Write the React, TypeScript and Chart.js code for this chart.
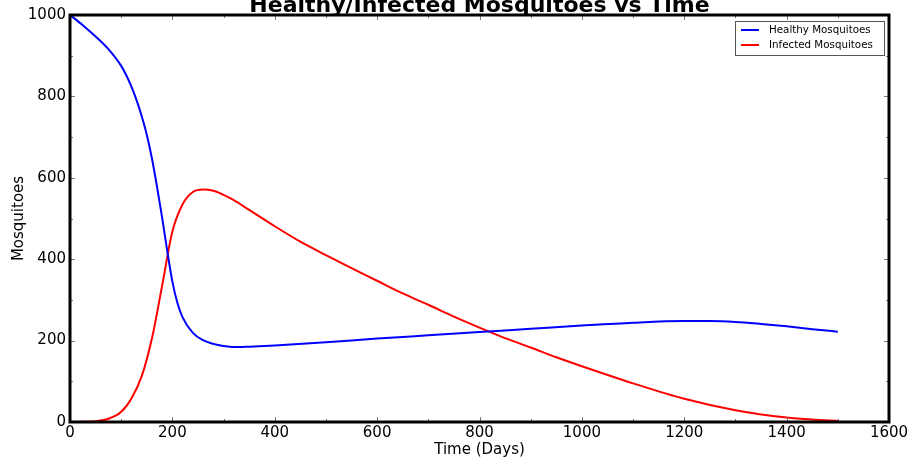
import React, { useEffect, useRef } from "react";
import { Chart, registerables } from "chart.js";

Chart.register(...registerables);

const TITLE = "Healthy/Infected Mosquitoes vs Time";
const X_LABEL = "Time (Days)";
const Y_LABEL = "Mosquitoes";

const healthyDays = [0, 25, 50, 75, 100, 110, 120, 130, 140, 150, 160, 170, 180, 190, 200, 210, 220, 240, 260, 280, 300, 330, 350, 400, 500, 600, 700, 800, 900, 1000, 1100, 1200, 1250, 1300, 1350, 1400, 1450, 1500];
const healthyValues = [1000, 975, 947, 916, 875, 852, 824, 791, 752, 706, 648, 578, 502, 420, 345, 292, 257, 219, 201, 192, 187, 184, 185, 188, 196, 205, 213, 221, 229, 237, 244, 248, 248, 246, 241, 235, 228, 222];

const infectedDays = [0, 25, 50, 75, 100, 120, 140, 160, 180, 200, 220, 240, 260, 280, 300, 320, 350, 400, 450, 500, 550, 600, 650, 700, 750, 800, 850, 900, 950, 1000, 1100, 1200, 1300, 1400, 1450, 1500];
const infectedValues = [0, 0.5, 2, 8, 25, 58, 112, 205, 335, 468, 535, 565, 571, 568, 558, 545, 521, 481, 443, 410, 378, 347, 316, 288, 259, 232, 206, 183, 159, 137, 95, 57, 29, 11, 6, 3];

const X_MIN = 0, X_MAX = 1600, X_STEP = 200;
const Y_MIN = 0, Y_MAX = 1000, Y_STEP = 200;

const FONT = "'DejaVu Sans', 'Bitstream Vera Sans', sans-serif";

const framePlugin = {
  id: "mplFrame",
  afterDatasetsDraw(chart: any) {
    const { ctx, chartArea: a, scales } = chart;
    const xs = scales.x, ys = scales.y;
    ctx.save();
    ctx.strokeStyle = "#777";
    ctx.lineWidth = 1;
    ctx.beginPath();
    for (let v = X_MIN; v <= X_MAX; v += X_STEP / 2) {
      const px = Math.round(xs.getPixelForValue(v)) + 0.5;
      const len = v % X_STEP === 0 ? 5 : 3;
      ctx.moveTo(px, a.bottom); ctx.lineTo(px, a.bottom - len);
      ctx.moveTo(px, a.top); ctx.lineTo(px, a.top + len);
    }
    for (let v = Y_MIN; v <= Y_MAX; v += Y_STEP / 2) {
      const py = Math.round(ys.getPixelForValue(v)) + 0.5;
      const len = v % Y_STEP === 0 ? 5 : 3;
      ctx.moveTo(a.left, py); ctx.lineTo(a.left + len, py);
      ctx.moveTo(a.right, py); ctx.lineTo(a.right - len, py);
    }
    ctx.stroke();
    ctx.strokeStyle = "#000";
    ctx.lineWidth = 3;
    ctx.strokeRect(a.left, a.top, a.right - a.left, a.bottom - a.top);
    ctx.restore();
  },
  afterDraw(chart: any) {
    const { ctx, chartArea: a } = chart;
    ctx.save();
    ctx.fillStyle = "#000";
    ctx.font = `bold 22px ${FONT}`;
    ctx.textAlign = "center";
    ctx.textBaseline = "alphabetic";
    ctx.fillText(TITLE, (a.left + a.right) / 2, 12);
    const ds = chart.data.datasets;
    const bx = a.right - 154, by = a.top + 6, bw = 149, bh = 34;
    ctx.fillStyle = "#fff";
    ctx.fillRect(bx, by, bw, bh);
    ctx.strokeStyle = "#555";
    ctx.lineWidth = 1;
    ctx.strokeRect(bx + 0.5, by + 0.5, bw, bh);
    ctx.font = `10.3px ${FONT}`;
    ctx.textAlign = "left";
    ctx.textBaseline = "middle";
    ds.forEach((d: any, i: number) => {
      const cy = by + 9 + i * 15;
      ctx.strokeStyle = d.borderColor;
      ctx.lineWidth = 2;
      ctx.beginPath();
      ctx.moveTo(bx + 6, cy); ctx.lineTo(bx + 24, cy);
      ctx.stroke();
      ctx.fillStyle = "#000";
      ctx.fillText(d.label, bx + 34, cy + 0.5);
    });
    ctx.restore();
  },
};

const plain = (v: any) => String(v);

export default function App() {
  const ref = useRef<HTMLCanvasElement>(null);
  useEffect(() => {
    if (!ref.current) return;
    const chart = new Chart(ref.current, {
      type: "line",
      data: {
        datasets: [
          {
            label: "Healthy Mosquitoes",
            data: healthyDays.map((d, i) => ({ x: d, y: healthyValues[i] })),
            borderColor: "#0000ff",
            borderWidth: 2,
            pointRadius: 0,
            cubicInterpolationMode: "monotone",
            fill: false,
          },
          {
            label: "Infected Mosquitoes",
            data: infectedDays.map((d, i) => ({ x: d, y: infectedValues[i] })),
            borderColor: "#ff0000",
            borderWidth: 2,
            pointRadius: 0,
            cubicInterpolationMode: "monotone",
            fill: false,
          },
        ],
      },
      options: {
        animation: false,
        responsive: true,
        maintainAspectRatio: false,
        devicePixelRatio: 1,
        layout: { padding: { left: 0, right: 19, top: 15, bottom: 0 } },
        plugins: {
          legend: { display: false },
          title: { display: false },
          tooltip: { enabled: false },
        },
        scales: {
          x: {
            type: "linear",
            min: X_MIN,
            max: X_MAX,
            ticks: { stepSize: X_STEP, color: "#000", font: { family: FONT, size: 15 }, padding: 2, maxRotation: 0, callback: plain },
            grid: { display: false, drawTicks: false },
            border: { display: false },
            title: { display: true, text: X_LABEL, color: "#000", font: { family: FONT, size: 15 }, padding: { top: 0, bottom: 1 } },
            afterFit: (s: any) => { s.height = 38; s.paddingRight = 0; },
          },
          y: {
            type: "linear",
            min: Y_MIN,
            max: Y_MAX,
            ticks: { stepSize: Y_STEP, color: "#000", font: { family: FONT, size: 15 }, padding: 4, callback: plain },
            grid: { display: false, drawTicks: false },
            border: { display: false },
            title: { display: true, text: Y_LABEL, color: "#000", font: { family: FONT, size: 15 }, padding: { top: 10, bottom: 0 } },
            afterFit: (s: any) => { s.width = 70; s.paddingTop = 0; s.paddingBottom = 0; },
          },
        },
      },
      plugins: [framePlugin],
    } as any);
    return () => chart.destroy();
  }, []);
  return (
    <div style={{ position: "fixed", left: 0, top: 0, width: 908, height: 460, background: "#fff" }}>
      <canvas ref={ref} />
    </div>
  );
}
